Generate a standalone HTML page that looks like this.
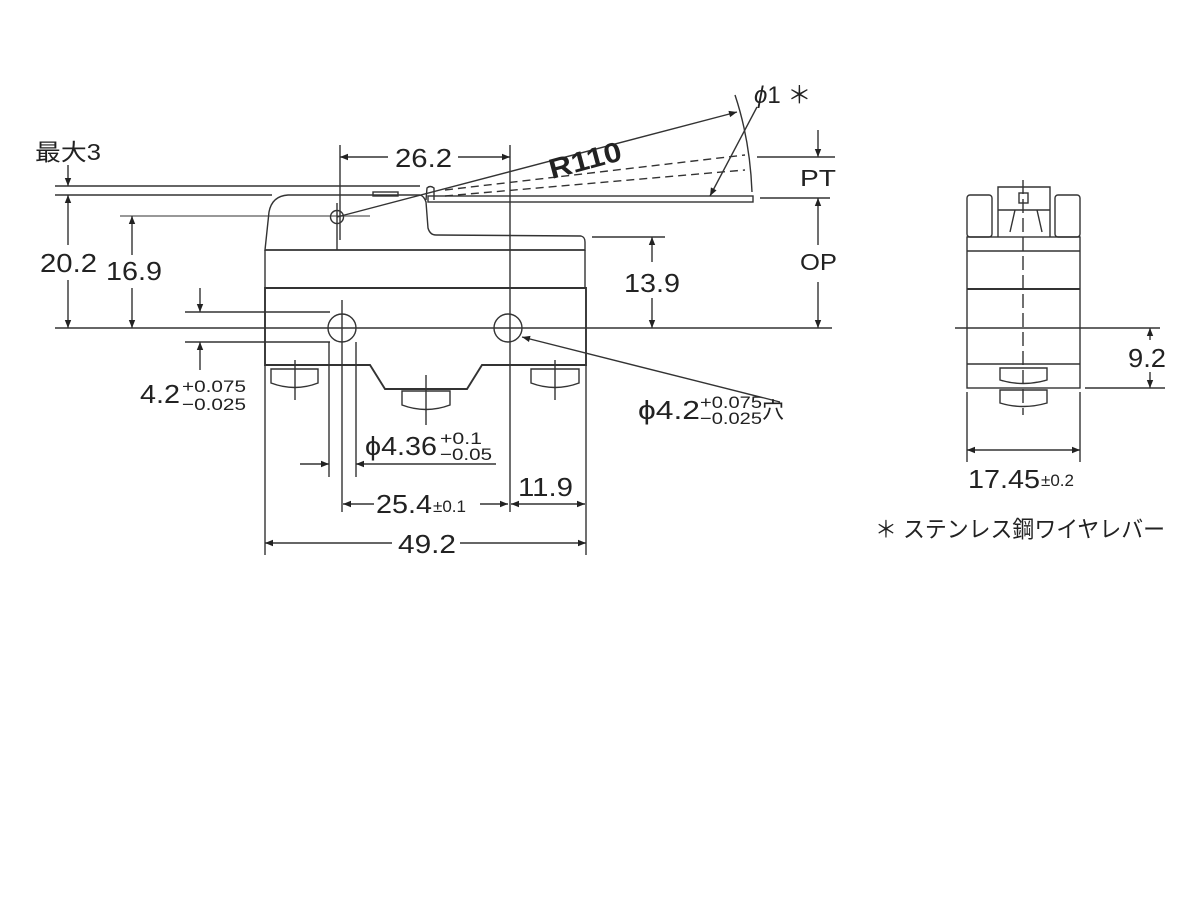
<!DOCTYPE html>
<html><head><meta charset="utf-8"><style>
html,body{margin:0;padding:0;background:#fff}
svg{display:block}
text{font-family:"Liberation Sans","Noto Sans CJK JP",sans-serif;fill:#222}
</style></head><body>
<svg width="1200" height="900" viewBox="0 0 1200 900" xmlns="http://www.w3.org/2000/svg">
<defs>
<marker id="a" viewBox="0 0 10 10" refX="10" refY="5" markerWidth="14" markerHeight="8" orient="auto-start-reverse" markerUnits="userSpaceOnUse"><path d="M0,1 L10,5 L0,9z" fill="#222"/></marker>
</defs>
<g stroke="#333" stroke-width="1.4" fill="none">
<line x1="55" y1="328" x2="832" y2="328"/>
<line x1="55" y1="195" x2="272" y2="195"/>
<line x1="55" y1="186" x2="420" y2="186"/>
<line x1="120" y1="216" x2="370" y2="216" stroke="#777"/>
<line x1="340" y1="145" x2="340" y2="240"/>
<line x1="510" y1="145" x2="510" y2="512"/>
<line x1="592" y1="237" x2="665" y2="237"/>
<line x1="185" y1="312" x2="330" y2="312"/>
<line x1="185" y1="342" x2="330" y2="342"/>
<line x1="757" y1="157" x2="835" y2="157"/>
<line x1="760" y1="198" x2="830" y2="198"/>
<path d="M265,250 L269,212 Q272,196 288,195 L420,195 Q424,196 426,202 L428,228 Q430,235 436,235 L581,236 Q585,237 585,242 L585,250 Z"/>
<line x1="265" y1="250" x2="585" y2="250"/>
<path d="M265,288 L586,288 L586,365 L482,365 L467,389 L385,389 L370,365 L265,365 Z" stroke-width="1.9"/>
<line x1="265" y1="250" x2="265" y2="288"/>
<line x1="585" y1="250" x2="585" y2="288"/>
<rect x="373" y="192" width="25" height="4"/>
<circle cx="337" cy="217" r="6.5"/>
<circle cx="342" cy="328" r="14"/>
<circle cx="508" cy="328" r="14"/>
<line x1="342" y1="300" x2="342" y2="512"/>
<line x1="329" y1="342" x2="329" y2="477"/>
<line x1="356" y1="342" x2="356" y2="477"/>
<line x1="337" y1="203" x2="337" y2="250"/>
<path d="M271,369 L318,369 L318,383 Q295,392 271,383 Z"/>
<path d="M531,369 L579,369 L579,383 Q555,392 531,383 Z"/>
<path d="M402,391 L450,391 L450,405 Q426,414 402,405 Z"/>
<line x1="295" y1="360" x2="295" y2="400"/>
<line x1="555" y1="360" x2="555" y2="400"/>
<line x1="426" y1="375" x2="426" y2="425"/>
<rect x="428" y="196" width="325" height="6"/>
<path d="M426,200 L427,188 Q430,185 434,188 L434,200"/>
<line x1="337" y1="217" x2="737" y2="112" marker-end="url(#a)"/>
<path d="M445,190 L745,155 M445,196 L745,170" stroke-dasharray="8,5"/>
<path d="M735,95 Q750,140 752,192"/>
<line x1="757" y1="107" x2="710" y2="196" marker-end="url(#a)"/>
<line x1="68" y1="165" x2="68" y2="186" marker-end="url(#a)"/>
<line x1="68" y1="195" x2="68" y2="245" marker-start="url(#a)"/>
<line x1="68" y1="280" x2="68" y2="328" marker-end="url(#a)"/>
<line x1="132" y1="216" x2="132" y2="255" marker-start="url(#a)"/>
<line x1="132" y1="288" x2="132" y2="328" marker-end="url(#a)"/>
<line x1="652" y1="237" x2="652" y2="262" marker-start="url(#a)"/>
<line x1="652" y1="298" x2="652" y2="328" marker-end="url(#a)"/>
<line x1="200" y1="288" x2="200" y2="312" marker-end="url(#a)"/>
<line x1="200" y1="342" x2="200" y2="370" marker-start="url(#a)"/>
<line x1="340" y1="157" x2="388" y2="157" marker-start="url(#a)"/>
<line x1="458" y1="157" x2="510" y2="157" marker-end="url(#a)"/>
<line x1="818" y1="130" x2="818" y2="157" marker-end="url(#a)"/>
<line x1="818" y1="198" x2="818" y2="245" marker-start="url(#a)"/>
<line x1="818" y1="282" x2="818" y2="328" marker-end="url(#a)"/>
<line x1="300" y1="464" x2="329" y2="464" marker-end="url(#a)"/>
<line x1="356" y1="464" x2="496" y2="464" marker-start="url(#a)"/>
<line x1="343" y1="504" x2="374" y2="504" marker-start="url(#a)"/>
<line x1="480" y1="504" x2="508" y2="504" marker-end="url(#a)"/>
<line x1="511" y1="504" x2="585" y2="504" marker-start="url(#a)" marker-end="url(#a)"/>
<line x1="265" y1="365" x2="265" y2="555"/>
<line x1="586" y1="365" x2="586" y2="555"/>
<line x1="265" y1="543" x2="392" y2="543" marker-start="url(#a)"/>
<line x1="460" y1="543" x2="586" y2="543" marker-end="url(#a)"/>
<line x1="780" y1="402" x2="522" y2="337" marker-end="url(#a)"/>
<rect x="967" y="195" width="25" height="42" rx="3"/>
<rect x="1055" y="195" width="25" height="42" rx="3"/>
<path d="M998,237 L998,187 L1050,187 L1050,237"/>
<line x1="998" y1="210" x2="1050" y2="210"/>
<path d="M1010,232 L1015,210 M1037,210 L1042,232"/>
<rect x="1019" y="193" width="9" height="10"/>
<rect x="967" y="237" width="113" height="151"/>
<line x1="967" y1="251" x2="1080" y2="251"/>
<line x1="967" y1="289" x2="1080" y2="289" stroke-width="1.9"/>
<line x1="967" y1="364" x2="1080" y2="364"/>
<path d="M1000,368 L1047,368 L1047,380 Q1023,387 1000,380 Z"/>
<path d="M1000,390 L1047,390 L1047,403 Q1023,410 1000,403 Z"/>
<line x1="1023" y1="180" x2="1023" y2="415" stroke-dasharray="14,5"/>
<line x1="955" y1="328" x2="1160" y2="328"/>
<line x1="1085" y1="388" x2="1165" y2="388"/>
<line x1="1150" y1="328" x2="1150" y2="340" marker-start="url(#a)"/>
<line x1="1150" y1="372" x2="1150" y2="388" marker-end="url(#a)"/>
<line x1="967" y1="392" x2="967" y2="462"/>
<line x1="1080" y1="392" x2="1080" y2="462"/>
<line x1="967" y1="450" x2="1080" y2="450" marker-start="url(#a)" marker-end="url(#a)"/>
</g>
<g font-size="26" lengthAdjust="spacingAndGlyphs">
<text x="35" y="160" font-size="23" textLength="66" lengthAdjust="spacingAndGlyphs">最大3</text>
<text x="40" y="272" textLength="57" lengthAdjust="spacingAndGlyphs">20.2</text>
<text x="106" y="280" textLength="56" lengthAdjust="spacingAndGlyphs">16.9</text>
<text x="395" y="167" textLength="57" lengthAdjust="spacingAndGlyphs">26.2</text>
<text x="624" y="292" textLength="56" lengthAdjust="spacingAndGlyphs">13.9</text>
<text x="800" y="186" font-size="23" textLength="36" lengthAdjust="spacingAndGlyphs">PT</text>
<text x="800" y="270" font-size="23" textLength="37" lengthAdjust="spacingAndGlyphs">OP</text>
<text x="546" y="170" font-size="28" font-weight="bold" transform="rotate(-15 583 152)" textLength="74" lengthAdjust="spacingAndGlyphs">R110</text>
<text x="754" y="103" font-size="24"><tspan font-style="italic">ϕ</tspan>1 ＊</text>
<text x="140" y="403" textLength="40" lengthAdjust="spacingAndGlyphs">4.2</text>
<text x="182" y="392" font-size="17" textLength="64" lengthAdjust="spacingAndGlyphs">+0.075</text>
<text x="182" y="410" font-size="17" textLength="64" lengthAdjust="spacingAndGlyphs">−0.025</text>
<text x="365" y="455" textLength="72" lengthAdjust="spacingAndGlyphs">ϕ4.36</text>
<text x="440" y="444" font-size="17" textLength="42" lengthAdjust="spacingAndGlyphs">+0.1</text>
<text x="440" y="460" font-size="17" textLength="52" lengthAdjust="spacingAndGlyphs">−0.05</text>
<text x="638" y="419" textLength="62" lengthAdjust="spacingAndGlyphs">ϕ4.2</text>
<text x="700" y="408" font-size="17" textLength="62" lengthAdjust="spacingAndGlyphs">+0.075</text>
<text x="700" y="424" font-size="17" textLength="62" lengthAdjust="spacingAndGlyphs">−0.025</text>
<text x="762" y="418" font-size="22">穴</text>
<text x="376" y="513" textLength="56" lengthAdjust="spacingAndGlyphs">25.4</text>
<text x="433" y="512" font-size="17">±0.1</text>
<text x="518" y="496" textLength="55" lengthAdjust="spacingAndGlyphs">11.9</text>
<text x="398" y="553" textLength="58" lengthAdjust="spacingAndGlyphs">49.2</text>
<text x="1128" y="367" textLength="38" lengthAdjust="spacingAndGlyphs">9.2</text>
<text x="968" y="488" textLength="72" lengthAdjust="spacingAndGlyphs">17.45</text>
<text x="1041" y="486" font-size="17">±0.2</text>
<text x="875" y="537" font-size="23" textLength="290" lengthAdjust="spacingAndGlyphs">＊ ステンレス鋼ワイヤレバー</text>
</g>
</svg>
</body></html>
